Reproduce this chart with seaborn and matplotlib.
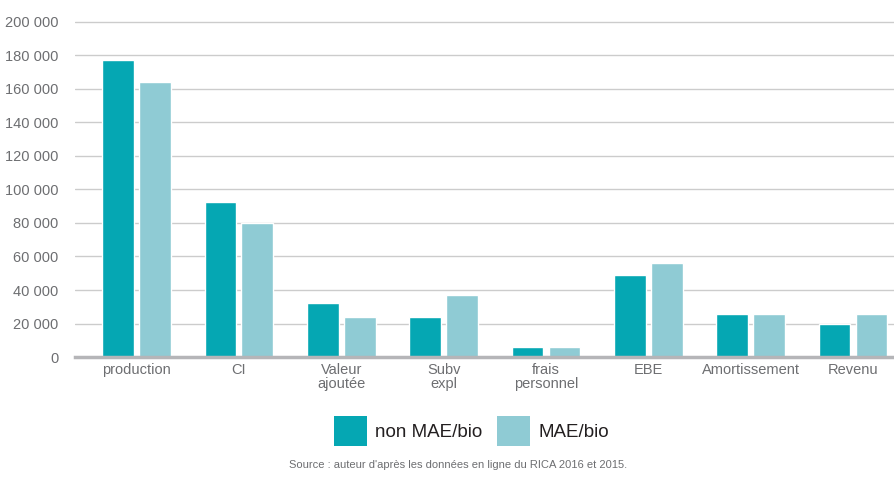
import pandas as pd
import matplotlib.pyplot as plt
import seaborn as sns
from matplotlib.patches import Patch

categories = ["production", "CI", "Valeur\najoutée", "Subv\nexpl", "frais\npersonnel",
              "EBE", "Amortissement", "Revenu"]
non_mae = [177000, 92500, 32500, 23800, 6000, 48800, 25500, 20000]
mae = [164000, 80000, 23800, 37000, 6000, 56000, 25500, 25500]
series = ["non MAE/bio", "MAE/bio"]
colors = ["#05a7b3", "#8fcbd4"]
yticks = list(range(0, 200001, 20000))

df = pd.DataFrame({
    "cat": categories * 2,
    "val": non_mae + mae,
    "serie": [series[0]] * len(categories) + [series[1]] * len(categories),
})

sns.set_style("white")
plt.rcParams["font.family"] = ["Liberation Sans Narrow", "Liberation Sans", "DejaVu Sans"]

fig = plt.figure(figsize=(8.95, 4.78), dpi=100)
ax = fig.add_axes([0.084, 0.253, 0.916, 0.705])

sns.barplot(data=df, x="cat", y="val", hue="serie", palette=colors, width=0.72,
            saturation=1, legend=False, ax=ax, zorder=3)
# leave a small white gap between the two bars of each group
gap = 0.05
for p in ax.patches:
    p.set_x(p.get_x() + gap / 2)
    p.set_width(p.get_width() - gap)

ax.set_xlim(-0.6, 7.41)
ax.set_ylim(0, 201000)
ax.set_yticks(yticks)
ax.set_yticklabels([f"{v:,}".replace(",", " ") for v in yticks])
ax.grid(axis="y", color="#cccccc", linewidth=1, zorder=0)
ax.set_xlabel("")
ax.set_ylabel("")
for s in ["top", "right", "left"]:
    ax.spines[s].set_visible(False)
ax.spines["bottom"].set_color("#b5b5b8")
ax.spines["bottom"].set_linewidth(2.5)
ax.spines["bottom"].set_zorder(4)
ax.tick_params(axis="y", length=0, pad=12, labelsize=10.5, labelcolor="#6d6e71")
ax.tick_params(axis="x", length=0, pad=4, labelsize=10.5, labelcolor="#6d6e71")
for lab in ax.get_xticklabels():
    lab.set_linespacing(1.0)

handles = [Patch(facecolor=c, edgecolor="none", label=s) for c, s in zip(colors, series)]
fig.legend(handles=handles, loc="center", bbox_to_anchor=(0.527, 0.098), ncol=2, frameon=False,
           fontsize=13.5, handlelength=1.75, handleheight=2.1, handletextpad=0.45,
           columnspacing=0.8, labelcolor="#231f20")

fig.text(0.512, 0.017, "Source : auteur d'après les données en ligne du RICA 2016 et 2015.",
         ha="center", va="bottom", fontsize=8, color="#6d6e71")

fig.savefig("out.png", dpi=100)
